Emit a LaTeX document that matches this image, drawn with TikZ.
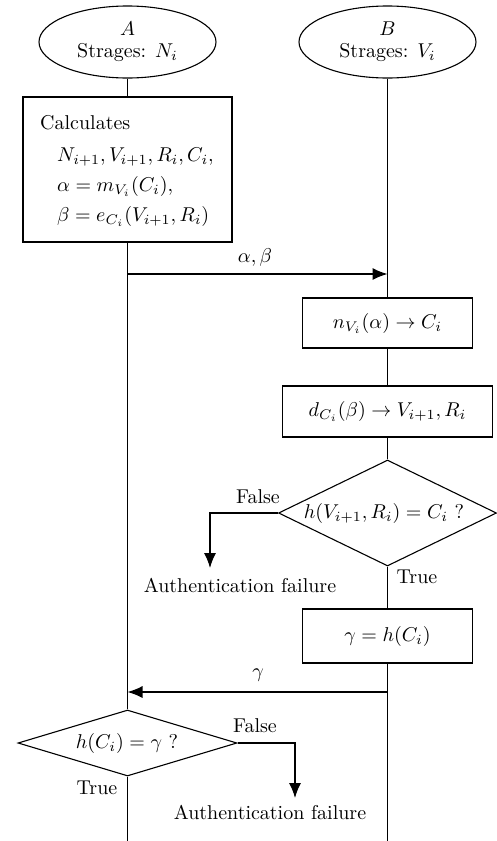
\documentclass[tikz,border=0pt]{standalone}
\usepackage{graphicx}
\usetikzlibrary{shapes.geometric,arrows.meta}
\newcommand{\tx}[1]{\scalebox{2}{#1}}
\begin{document}
\begin{tikzpicture}[x=1pt,y=-1pt,
  every node/.style={font=\fontsize{10}{12}\selectfont, inner sep=0pt},
  shp/.style={draw, line width=1.1pt},
  stepbox/.style={shp, rectangle},
  actor/.style={shp, ellipse, minimum width=177pt, minimum height=72pt, align=center},
  decide/.style={shp, diamond, inner sep=0pt},
  life/.style={line width=0.9pt},
  msg/.style={line width=1.2pt, -{Latex[length=15pt,width=12pt]}},
  lbl/.style={anchor=center}]
\useasboundingbox (0,0) rectangle (497,841);
% actors
\node[actor] (A) at (127.5,42) {\tx{\begin{tabular}{@{}c@{}}$A$\\[-1pt]Strages: $N_i$\end{tabular}}};
\node[actor] (B) at (387.5,42) {\tx{\begin{tabular}{@{}c@{}}$B$\\[-1pt]Strages: $V_i$\end{tabular}}};
% A side
\node[stepbox, minimum width=209pt, minimum height=145pt] (calc) at (127.5,169.5) {};
\node[anchor=north west] (calctext) at (40,112)
  {\tx{\begin{tabular}{@{}l@{}}
   Calculates\\[4pt]
   \hspace{8.5pt}$N_{i+1},V_{i+1},R_i,C_i,$\\[3pt]
   \hspace{8.5pt}$\alpha=m_{V_i}(C_i),$\\[3pt]
   \hspace{8.5pt}$\beta=e_{C_i}(V_{i+1},R_i)$\end{tabular}}};
% B side
\node[stepbox, minimum width=170pt, minimum height=50pt] (n) at (387.5,323) {\tx{$n_{V_i}(\alpha)\rightarrow C_i$}};
\node[stepbox, minimum width=210pt, minimum height=51pt] (d) at (387.5,411.5) {\tx{$d_{C_i}(\beta)\rightarrow V_{i+1},R_i$}};
\node[decide, minimum width=218pt, minimum height=106pt] (q1) at (387.5,513) {};
\node (q1t) at (384,513) {\tx{$h(V_{i+1},R_i)=C_i\ ?$}};
\node[stepbox, minimum width=170pt, minimum height=54pt] (g) at (387.5,636) {\tx{$\gamma=h(C_i)$}};
\node[decide, minimum width=219pt, minimum height=66pt] (q2) at (127.5,743) {};
\node (q2t) at (127,743) {\tx{$h(C_i)=\gamma\ ?$}};
% coordinates
\coordinate (a1) at (127.5,274);
\coordinate (b1) at (387.5,274);
\coordinate (b2) at (387.5,692);
\coordinate (a2) at (127.5,692);
\coordinate (aend) at (127.5,841);
\coordinate (bend) at (387.5,841);
\coordinate (f1c) at (210,513);
\coordinate (f1e) at (210,568);
\coordinate (f2c) at (295,743);
\coordinate (f2e) at (295,798);
% lifelines
\draw[life] (A.south) -- (calc.north);
\draw[life] (calc.south) -- (a2);
\draw[life] (a2) -- (q2.north);
\draw[life] (q2.south) -- (aend);
\draw[life] (B.south) -- (b1);
\draw[life] (b1) -- (n.north);
\draw[life] (n.south) -- (d.north);
\draw[life] (d.south) -- (q1.north);
\draw[life] (q1.south) -- (g.north);
\draw[life] (g.south) -- (b2);
\draw[life] (b2) -- (bend);
% messages
\draw[msg] (a1) -- (b1);
\node[lbl] (lab1) at (255,257) {\tx{$\alpha,\beta$}};
\draw[msg] (b2) -- (a2);
\node[lbl] (lab2) at (258,675) {\tx{$\gamma$}};
% false branches
\draw[msg] (q1.west) -- (f1c) -- (f1e);
\node[lbl] (fa1) at (258,497) {\tx{False}};
\node[lbl] (af1) at (240,585) {\tx{Authentication failure}};
\node[lbl] (tr1) at (417,577) {\tx{True}};
\draw[msg] (q2.east) -- (f2c) -- (f2e);
\node[lbl] (fa2) at (255,726) {\tx{False}};
\node[lbl] (af2) at (270,812) {\tx{Authentication failure}};
\node[lbl] (tr2) at (97,788) {\tx{True}};
\end{tikzpicture}
\end{document}
